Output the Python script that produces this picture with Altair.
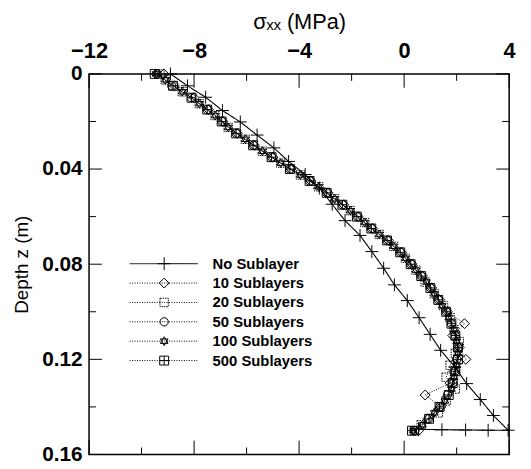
import altair as alt
import pandas as pd

# ---------------- data ----------------
series_names = ["No Sublayer", "10 Sublayers", "20 Sublayers", "50 Sublayers",
                "100 Sublayers", "500 Sublayers"]

# No Sublayer (solid line with + markers)
nosub_x = [-8.9, -8.25, -7.56, -6.92, -6.24, -5.6, -4.96, -4.4, -3.77, -3.23,
           -2.74, -2.25, -1.68, -1.23, -0.78, -0.37, 0.12, 0.57, 0.99, 1.39,
           1.93, 2.38, 2.9, 3.4, 3.96, 3.2, 2.34, 1.44, 0.55]
nosub_z = [0.0, 0.005, 0.0098, 0.0154, 0.0202, 0.0257, 0.0311, 0.0368, 0.0423, 0.048,
           0.0548, 0.0617, 0.0679, 0.0747, 0.0817, 0.0887, 0.0953, 0.1025, 0.1095, 0.1162,
           0.1232, 0.1302, 0.1369, 0.1436, 0.1498, 0.1498, 0.1497, 0.1496, 0.1494]

# depths of the sampled points of the sublayer solutions
z_a = [0.0, 0.005, 0.01, 0.015, 0.02, 0.025, 0.03, 0.035, 0.04, 0.045,
       0.05, 0.055, 0.06, 0.065, 0.07, 0.075, 0.08, 0.085, 0.09, 0.095,
       0.1, 0.105, 0.11, 0.115, 0.12, 0.125, 0.13, 0.135, 0.14, 0.145, 0.15]
z_b = [0.0, 0.0025, 0.0075, 0.0125, 0.0175, 0.0225, 0.0275, 0.0325, 0.0375, 0.0425,
       0.0475, 0.0525, 0.0575, 0.0625, 0.0675, 0.0725, 0.0775, 0.0825, 0.0875, 0.0925,
       0.0975, 0.1025, 0.1075, 0.1125, 0.1175, 0.1225, 0.1275, 0.1325, 0.1375, 0.1425,
       0.1475, 0.15]

s10_x = [-9.15, -8.75, -8.0, -7.45, -6.9, -6.35, -5.7, -5.0, -4.3, -3.55,
         -2.9, -2.3, -1.75, -1.2, -0.6, -0.1, 0.3, 0.7, 1.05, 1.35,
         1.65, 2.3, 1.85, 2.1, 2.35, 1.9, 1.75, 0.8, 1.4, 0.9, 0.55]
s20_x = [-9.3, -9.1, -8.45, -7.8, -7.2, -6.7, -6.05, -5.4, -4.7, -3.95,
         -3.25, -2.65, -2.05, -1.5, -0.95, -0.4, 0.05, 0.45, 0.8, 1.15,
         1.5, 1.75, 1.9, 2.1, 1.95, 1.75, 1.6, 1.95, 1.6, 1.3, 0.65, 0.4]
s50_x = [-9.4, -8.85, -8.1, -7.5, -6.95, -6.4, -5.75, -5.05, -4.35, -3.6,
         -2.95, -2.35, -1.8, -1.25, -0.65, -0.15, 0.25, 0.65, 1.0, 1.3,
         1.6, 1.8, 1.95, 2.05, 2.0, 1.95, 1.85, 1.65, 1.35, 0.95, 0.4]
s100_x = [-9.45, -9.1, -8.45, -7.8, -7.2, -6.7, -6.05, -5.4, -4.7, -3.95,
          -3.25, -2.65, -2.05, -1.5, -0.95, -0.4, 0.05, 0.45, 0.85, 1.15,
          1.45, 1.7, 1.9, 2.0, 2.05, 2.0, 1.9, 1.8, 1.55, 1.15, 0.7, 0.35]
s500_x = [-9.5, -8.8, -8.1, -7.5, -6.95, -6.4, -5.75, -5.05, -4.35, -3.6,
          -2.95, -2.35, -1.8, -1.25, -0.65, -0.15, 0.25, 0.65, 1.0, 1.3,
          1.6, 1.8, 1.95, 2.05, 2.05, 1.95, 1.85, 1.7, 1.35, 0.95, 0.3]

x_labels = [-12, -8, -4, 0, 4]
x_minor = [-10, -6, -2, 2]
y_labels = [0, 0.04, 0.08, 0.12, 0.16]
y_minor = [0.02, 0.06, 0.10, 0.14]

# ---------------- build tables ----------------
rows = []
for i, (x, z) in enumerate(zip(nosub_x, nosub_z)):
    rows.append({"series": "No Sublayer", "x": x, "z": z, "idx": i})
for name, xs, zs in zip(series_names[1:], [s10_x, s20_x, s50_x, s100_x, s500_x],
                        [z_a, z_b, z_a, z_b, z_a]):
    for i, (x, z) in enumerate(zip(xs, zs)):
        rows.append({"series": name, "x": x, "z": z, "idx": i})
df = pd.DataFrame(rows)

# ---------------- styles ----------------
W, H = 425, 385
FONT = "Liberation Sans"

shapes = {
    "No Sublayer": ("M-1,0L1,0M0,-1L0,1", 169, None),
    "10 Sublayers": ("M0,-1L1,0L0,1L-1,0Z", 100, None),
    "20 Sublayers": ("M-1,-1L1,-1L1,1L-1,1Z", 72, [1.5, 1]),
    "50 Sublayers": ("circle", 70, None),
    "100 Sublayers": ("M0,-1L0.866,0.5L-0.866,0.5Z M0,1L0.866,-0.5L-0.866,-0.5Z", 81, None),
    "500 Sublayers": ("M-1,-1L1,-1L1,1L-1,1Z M-1,0L1,0 M0,-1L0,1", 81, None),
}
line_dash = {name: ([1, 1.5] if name != "No Sublayer" else [1, 0]) for name in series_names}

xscale = alt.Scale(domain=[-12, 4], nice=False, zero=False)
yscale = alt.Scale(domain=[0, 0.16], nice=False, zero=False, reverse=True)

x_axis = alt.Axis(orient="top", values=x_labels, format="d", grid=False, ticks=False,
                  domain=False, labelFont=FONT, labelFontSize=22,
                  labelFontWeight="bold", labelColor="black", labelPadding=12,
                  labelFlush=False, labelOverlap=False, labelBound=False,
                  title="σₓₓ (MPa)", titleFont=FONT, titleFontSize=22,
                  titleFontWeight="normal", titleColor="black", titlePadding=6)
y_axis = alt.Axis(orient="left", values=y_labels, grid=False, ticks=False,
                  domain=False, labelFont=FONT, labelFontSize=21, labelFontWeight="bold",
                  labelColor="black", labelPadding=7, labelFlush=False,
                  labelOverlap=False, labelBound=False,
                  labelExpr="datum.value == 0 ? '0' : format(datum.value, '.2f')",
                  title="Depth z (m)", titleFont=FONT, titleFontSize=19,
                  titleFontWeight="normal", titleColor="black", titlePadding=10)


def X():
    return alt.X("x:Q", scale=xscale, axis=x_axis)


def Y():
    return alt.Y("z:Q", scale=yscale, axis=y_axis)


layers = []
draw_order = series_names[1:] + ["No Sublayer"]
for name in draw_order:
    base = alt.Chart(df).transform_filter(alt.datum.series == name)
    layers.append(
        base.mark_line(color="black", strokeWidth=1.1 if name == "No Sublayer" else 1,
                       strokeDash=line_dash[name]).encode(
            x=X(), y=Y(), order=alt.Order("idx:Q"))
    )
    shp, sz, dash = shapes[name]
    pkw = dict(shape=shp, size=sz, filled=False, stroke="black", strokeWidth=1, opacity=1)
    if dash:
        pkw["strokeDash"] = dash
    layers.append(base.mark_point(**pkw).encode(x=X(), y=Y()))

# inward ticks on all four sides
maj_x = pd.DataFrame({"x": x_labels})
min_x = pd.DataFrame({"x": x_minor})
maj_y = pd.DataFrame({"z": y_labels})
min_y = pd.DataFrame({"z": y_minor})
for d, ln in [(maj_x, 14), (min_x, 7)]:
    layers.append(alt.Chart(d).mark_rule(color="black", strokeWidth=1).encode(
        x=X(), y=alt.value(0), y2=alt.value(ln)))
    layers.append(alt.Chart(d).mark_rule(color="black", strokeWidth=1).encode(
        x=X(), y=alt.value(H - ln), y2=alt.value(H)))
for d, ln in [(maj_y, 13), (min_y, 7)]:
    layers.append(alt.Chart(d).mark_rule(color="black", strokeWidth=1).encode(
        y=Y(), x=alt.value(0), x2=alt.value(ln)))
    layers.append(alt.Chart(d).mark_rule(color="black", strokeWidth=1).encode(
        y=Y(), x=alt.value(W - ln), x2=alt.value(W)))

# legend inside the plot
LEG_Y0, LEG_DY = 192, 19.6
LINE_X0, LINE_X1, MARK_X, TEXT_X = 41, 110, 76, 125
for i, name in enumerate(series_names):
    ld = pd.DataFrame({"label": [name]})
    yy = LEG_Y0 + i * LEG_DY
    layers.append(alt.Chart(ld).mark_rule(color="black", strokeWidth=1,
                                          strokeDash=line_dash[name]).encode(
        x=alt.value(LINE_X0), x2=alt.value(LINE_X1), y=alt.value(yy)))
    shp, sz, dash = shapes[name]
    pkw = dict(shape=shp, size=sz, filled=False, stroke="black", strokeWidth=1, opacity=1)
    if dash:
        pkw["strokeDash"] = dash
    layers.append(alt.Chart(ld).mark_point(**pkw).encode(
        x=alt.value(MARK_X), y=alt.value(yy)))
    layers.append(alt.Chart(ld).mark_text(align="left", baseline="middle", font=FONT,
                                          fontSize=15, fontWeight="bold",
                                          color="black").encode(
        x=alt.value(TEXT_X), y=alt.value(yy), text="label:N"))

chart = alt.layer(*layers).properties(
    width=W, height=H,
    background="white",
    autosize=alt.AutoSizeParams(type="none"),
    padding={"left": 82, "top": 64, "right": 14, "bottom": 11},
).configure_view(stroke="black", strokeWidth=1.5)

chart.save("out.html", embed_options={"renderer": "svg", "actions": False})
